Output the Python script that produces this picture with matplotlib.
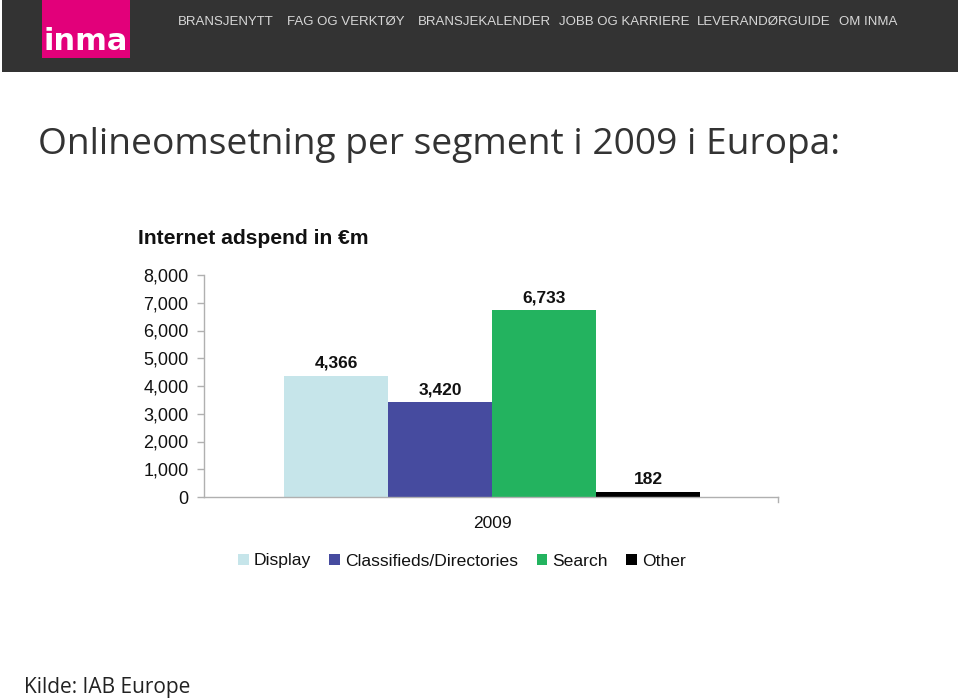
import matplotlib
matplotlib.use("Agg")
import matplotlib.pyplot as plt
from matplotlib.patches import Rectangle, Patch

segments = ["Display", "Classified/Directories", "Search", "Other"]
segments_legend = ["Display", "Classifieds/Directories", "Search", "Other"]
values = [4366, 3420, 6733, 182]
colors = ["#c6e5ea", "#464b9f", "#23b35f", "#000000"]
year_label = "2009"
yticks = [0, 1000, 2000, 3000, 4000, 5000, 6000, 7000, 8000]
nav_items = ["BRANSJENYTT", "FAG OG VERKTØY", "BRANSJEKALENDER",
             "JOBB OG KARRIERE", "LEVERANDØRGUIDE", "OM INMA"]
nav_x = [178, 287, 418, 559, 697, 839]

W, H = 960, 700
fig = plt.figure(figsize=(9.6, 7.0), dpi=100)
fig.patch.set_facecolor("white")

def fx(px):
    return px / W

def fy(py):
    return 1 - py / H

# header band
fig.patches.append(Rectangle((fx(2), fy(72)), fx(956), 72 / H, transform=fig.transFigure,
                             facecolor="#333333", edgecolor="none", zorder=0))
# logo
fig.patches.append(Rectangle((fx(42), fy(58)), fx(88), 58 / H, transform=fig.transFigure,
                             facecolor="#e2007a", edgecolor="none", zorder=1))
fig.text(fx(86), fy(42), "inma", color="white", fontsize=22, fontweight="bold",
         family="DejaVu Sans", ha="center", va="center", zorder=2)
for t, x in zip(nav_items, nav_x):
    fig.text(fx(x), fy(22), t, color="#d8d8d8", fontsize=9.5, family="Liberation Sans",
             ha="left", va="center")

# title
fig.text(fx(38), fy(145), "Onlineomsetning per segment i 2009 i Europa:", color="#333333",
         fontsize=26.7, family="Open Sans", ha="left", va="center")

# chart
ax = fig.add_axes([fx(204), fy(497), fx(778) - fx(204), (497 - 275) / H])
x = [0, 1, 2, 3]
bars = ax.bar(x, values, width=1.0, color=colors, edgecolor="none", zorder=2)
for xi, v in zip(x, values):
    ax.text(xi, v + 180, f"{v:,}", ha="center", va="bottom", fontsize=12.5,
            fontweight="bold", family="Liberation Sans", color="#111111")
ax.set_xlim(-1.27, 4.25)
ax.set_ylim(0, 8000)
ax.set_yticks(yticks)
ax.set_yticklabels([f"{v:,}" for v in yticks], family="Liberation Sans", fontsize=13,
                   color="#111111")
ax.set_xticks([1.5])
ax.set_xticklabels([year_label], family="Liberation Sans", fontsize=12.5, color="#111111")
ax.tick_params(axis="x", length=0, pad=14)
ax.tick_params(axis="y", length=5, color="#b0b0b0", width=1, pad=6)
for s in ["top", "right"]:
    ax.spines[s].set_visible(False)
for s in ["left", "bottom"]:
    ax.spines[s].set_color("#b0b0b0")
    ax.spines[s].set_linewidth(1)
ax.plot([4.25, 4.25], [0, -180], color="#b0b0b0", lw=1, clip_on=False)

fig.text(fx(138), fy(239), "Internet adspend in €m", fontsize=15.2, fontweight="bold",
         family="Liberation Sans", color="#111111", ha="left", va="center")

handles = [Patch(facecolor=c, edgecolor="none") for c in colors]
leg = fig.legend(handles, segments_legend, loc="center left",
                 bbox_to_anchor=(fx(238), fy(561)), ncol=4, frameon=False,
                 prop={"family": "Liberation Sans", "size": 12.6},
                 handlelength=0.6, handleheight=0.6, handletextpad=0.3,
                 columnspacing=1.05, borderaxespad=0, borderpad=0)
for t in leg.get_texts():
    t.set_color("#111111")

fig.text(fx(24), fy(688), "Kilde: IAB Europe", fontsize=15, family="Open Sans",
         color="#222222", ha="left", va="center")

fig.savefig("out.png", dpi=100)
